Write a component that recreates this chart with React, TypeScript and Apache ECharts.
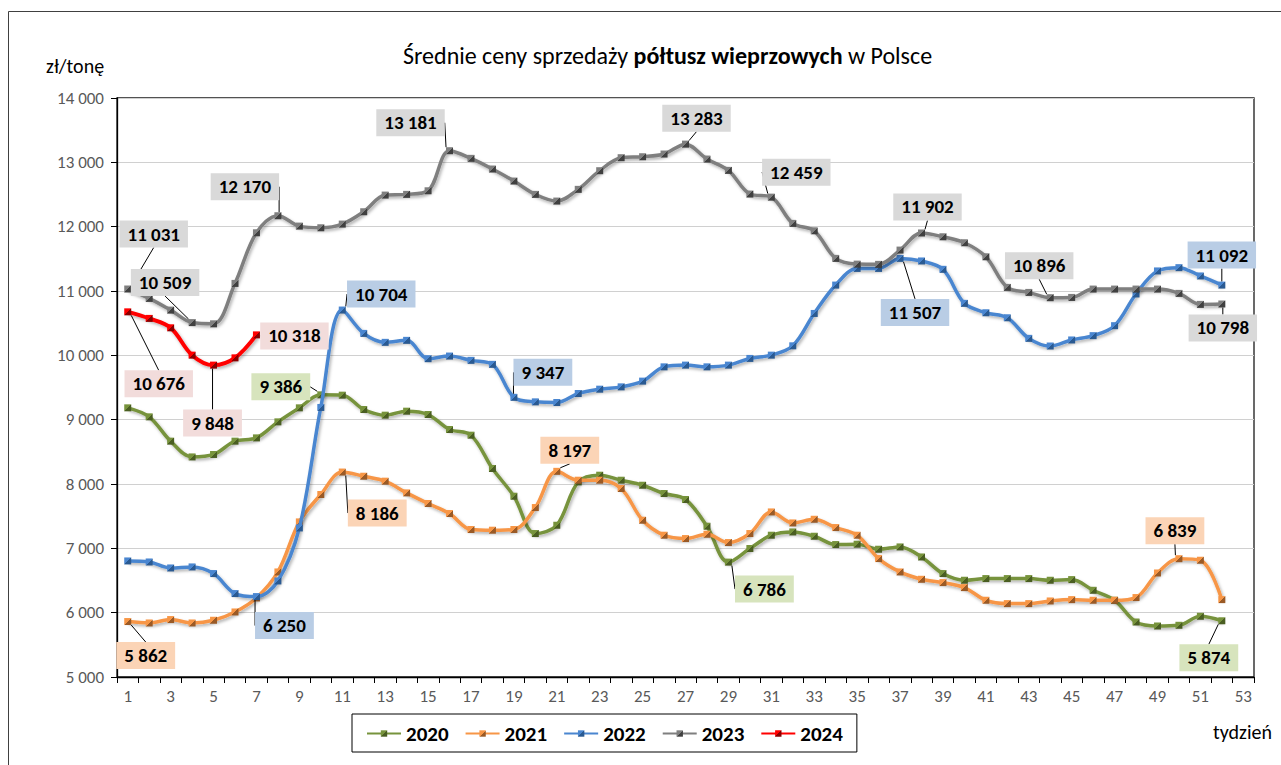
import React, { useEffect, useRef } from "react";
import * as echarts from "echarts";

const weeks = ["1","2","3","4","5","6","7","8","9","10","11","12","13","14","15","16","17","18","19","20","21","22","23","24","25","26","27","28","29","30","31","32","33","34","35","36","37","38","39","40","41","42","43","44","45","46","47","48","49","50","51","52","53"];

const y2020 = [9184,9044,8666,8421,8459,8666,8717,8966,9184,9386,9381,9158,9070,9132,9080,8847,8759,8241,7810,7230,7359,8033,8137,8059,7981,7852,7759,7344,6786,6997,7204,7255,7188,7059,7064,6986,7022,6866,6608,6504,6530,6530,6530,6504,6514,6348,6193,5855,5793,5804,5944,5874];
const y2021 = [5862,5840,5893,5840,5882,6011,6229,6633,7411,7837,8186,8121,8044,7862,7697,7541,7293,7282,7293,7634,8197,8059,8059,7930,7437,7204,7152,7219,7090,7230,7566,7395,7452,7323,7204,6841,6633,6519,6468,6390,6193,6141,6141,6182,6203,6193,6193,6235,6617,6839,6815,6203];
const y2022 = [6804,6788,6695,6711,6608,6297,6250,6493,7317,9190,10704,10341,10202,10233,9948,9989,9922,9860,9347,9277,9267,9407,9474,9510,9599,9821,9848,9821,9848,9952,10003,10148,10651,11092,11351,11351,11507,11467,11337,10808,10662,10584,10264,10145,10239,10306,10461,10954,11312,11363,11234,11092];
const y2023 = [11031,10885,10703,10509,10490,11118,11905,12170,12009,11983,12040,12232,12491,12502,12558,13181,13062,12896,12709,12502,12398,12580,12870,13072,13087,13129,13283,13051,12875,12507,12459,12051,11936,11507,11418,11414,11636,11902,11843,11750,11532,11056,10978,10896,10900,11030,11030,11030,11030,10963,10792,10798];
const y2024 = [10676,10574,10428,10003,9848,9961,10318];

const seriesNames = ["2020", "2021", "2022", "2023", "2024"];
const seriesValues = [y2020, y2021, y2022, y2023, y2024];

// styling
const lineColors = ["#77933C", "#F79646", "#4A86D0", "#7F7F7F", "#FF0000"];
const markerDark = ["#4A5E22", "#9A5A26", "#2A5A92", "#404040", "#8A0000"];
const labelBg = ["#D7E4BD", "#FBD4B6", "#B9CDE5", "#D9D9D9", "#F2DCDB"];
const lineWidths = [3.5, 3.5, 3.5, 3.5, 4];

// annotated points: index of week (0-based) and label offsets (px)
type Annot = { idx: number; dx: number; dy: number; elbow?: "upLeft" | "downRight" | "upRight" };
const annots: Annot[][] = [
  [
    { idx: 9, dx: -40, dy: -8 },
    { idx: 28, dx: 36, dy: 27, elbow: "downRight" },
    { idx: 51, dx: -13, dy: 37 },
  ],
  [
    { idx: 0, dx: 18, dy: 34 },
    { idx: 10, dx: 35, dy: 41 },
    { idx: 20, dx: 13, dy: -21 },
    { idx: 49, dx: -4, dy: -28 },
  ],
  [
    { idx: 6, dx: 28, dy: 29 },
    { idx: 10, dx: 39, dy: -16, elbow: "upRight" },
    { idx: 18, dx: 29, dy: -25 },
    { idx: 36, dx: 15, dy: 54 },
    { idx: 51, dx: 0, dy: -30 },
  ],
  [
    { idx: 0, dx: 26, dy: -55 },
    { idx: 3, dx: -27, dy: -40 },
    { idx: 7, dx: -33, dy: -29 },
    { idx: 15, dx: -39, dy: -28, elbow: "upLeft" },
    { idx: 26, dx: 11, dy: -26 },
    { idx: 30, dx: 25, dy: -25 },
    { idx: 37, dx: 6, dy: -26 },
    { idx: 43, dx: -11, dy: -32 },
    { idx: 51, dx: 1, dy: 24 },
  ],
  [
    { idx: 0, dx: 31, dy: 72 },
    { idx: 4, dx: -1, dy: 58 },
    { idx: 6, dx: 38, dy: 1 },
  ],
];

const FONT = "Carlito, Lato, 'Open Sans', sans-serif";

const fmt = (v: number) => String(Math.round(v)).replace(/\B(?=(\d{3})+(?!\d))/g, " ");

export default function App() {
  const ref = useRef<HTMLDivElement>(null);

  useEffect(() => {
    const chart = echarts.init(ref.current!, null, { renderer: "svg" });

    const series = seriesNames.map((name, s) => {
      const a = annots[s];
      const c = lineColors[s];
      const d = markerDark[s];
      const data = seriesValues[s].map((v, i) =>
        a.some((x) => x.idx === i) ? { value: v, label: { show: true } } : v
      );
      return {
        name,
        type: "line",
        data,
        smooth: 0.35,
        symbol: "rect",
        symbolSize: 7,
        showAllSymbol: true,
        z: s === 4 ? 5 : 2 + s * 0.1,
        lineStyle: {
          color: c,
          width: lineWidths[s],
          shadowColor: "rgba(0,0,0,0.3)",
          shadowBlur: 3,
          shadowOffsetX: 1.5,
          shadowOffsetY: 2,
        },
        itemStyle: {
          color: new echarts.graphic.LinearGradient(0, 0, 1, 1, [
            { offset: 0, color: c },
            { offset: 0.5, color: c },
            { offset: 0.5, color: d },
            { offset: 1, color: d },
          ]),
          borderWidth: 0,
        },
        label: {
          show: false,
          position: "inside",
          formatter: (p: any) => fmt(p.value),
          backgroundColor: labelBg[s],
          padding: [5, 8, 3, 8],
          color: "#000",
          fontFamily: FONT,
          fontWeight: "bold",
          fontSize: 19,
        },
        labelLine: {
          show: true,
          lineStyle: { color: "#000", width: 1 },
        },
        labelLayout: (p: any) => {
          const an = a.find((x) => x.idx === p.dataIndex);
          if (!an) return {};
          const res: any = { dx: an.dx, dy: an.dy };
          if (an.elbow && p.rect) {
            const cx = p.rect.x + p.rect.width / 2;
            const cy = p.rect.y + p.rect.height / 2;
            if (an.elbow === "upLeft") {
              res.labelLinePoints = [[cx, cy - 3], [cx, cy + an.dy], [cx + an.dx + 34, cy + an.dy]];
            } else if (an.elbow === "downRight") {
              res.labelLinePoints = [[cx, cy + 3], [cx, cy + an.dy], [cx + an.dx - 30, cy + an.dy]];
            } else if (an.elbow === "upRight") {
              res.labelLinePoints = [[cx, cy - 3], [cx, cy + an.dy], [cx + an.dx - 34, cy + an.dy]];
            }
          }
          return res;
        },
        emphasis: { disabled: true },
      };
    });

    const option: any = {
      animation: false,
      backgroundColor: "#fff",
      textStyle: { fontFamily: FONT },
      title: {
        text: "{n|Średnie ceny sprzedaży }{b|półtusz wieprzowych}{n| w Polsce}",
        left: 398,
        top: 38,
        textStyle: {
          rich: {
            n: { fontFamily: FONT, fontSize: 24, color: "#000", fontWeight: "normal" },
            b: { fontFamily: FONT, fontSize: 24, color: "#000", fontWeight: "bold" },
          },
        },
      },
      grid: {
        left: 117,
        top: 98,
        right: 27,
        bottom: 88,
        show: true,
        borderColor: "#1a1a1a",
        borderWidth: 1.3,
      },
      legend: {
        left: 352,
        top: 714,
        padding: [9, 14, 8, 14],
        borderColor: "#000",
        borderWidth: 1,
        itemGap: 16,
        itemWidth: 34,
        itemHeight: 8,
        textStyle: { fontFamily: FONT, fontWeight: "bold", fontSize: 21, color: "#000" },
        data: seriesNames,
      },
      xAxis: {
        type: "category",
        data: weeks,
        boundaryGap: true,
        axisLine: { show: true, lineStyle: { color: "#000", width: 1.3 } },
        axisTick: { show: true, interval: 0, length: 6, lineStyle: { color: "#000" } },
        axisLabel: { interval: 1, color: "#595959", fontSize: 17, margin: 11, fontFamily: FONT },
        splitLine: { show: false },
      },
      yAxis: {
        type: "value",
        min: 5000,
        max: 14000,
        interval: 1000,
        axisLine: { show: true, lineStyle: { color: "#000", width: 1.3 } },
        axisTick: { show: true, length: 6, lineStyle: { color: "#000" } },
        axisLabel: { formatter: (v: number) => fmt(v), color: "#595959", fontSize: 17, margin: 13, fontFamily: FONT },
        splitLine: { show: true, lineStyle: { color: "#D0D0D0", width: 1 } },
      },
      graphic: [
        {
          type: "rect",
          shape: { x: 8.5, y: 11.5, width: 1400, height: 900 },
          style: { fill: "none", stroke: "#404040", lineWidth: 1 },
          silent: true,
          z: -1,
        },
        {
          type: "text",
          x: 46,
          y: 56,
          style: { text: "zł/tonę", fontFamily: FONT, fontSize: 20, fill: "#000" },
        },
        {
          type: "text",
          x: 1213,
          y: 722,
          style: { text: "tydzień", fontFamily: FONT, fontSize: 20, fill: "#000" },
        },
      ],
      series,
    };

    chart.setOption(option);
    return () => chart.dispose();
  }, []);

  return (
    <div
      ref={ref}
      style={{ position: "absolute", left: 0, top: 0, width: 1281, height: 765, background: "#fff" }}
    />
  );
}
